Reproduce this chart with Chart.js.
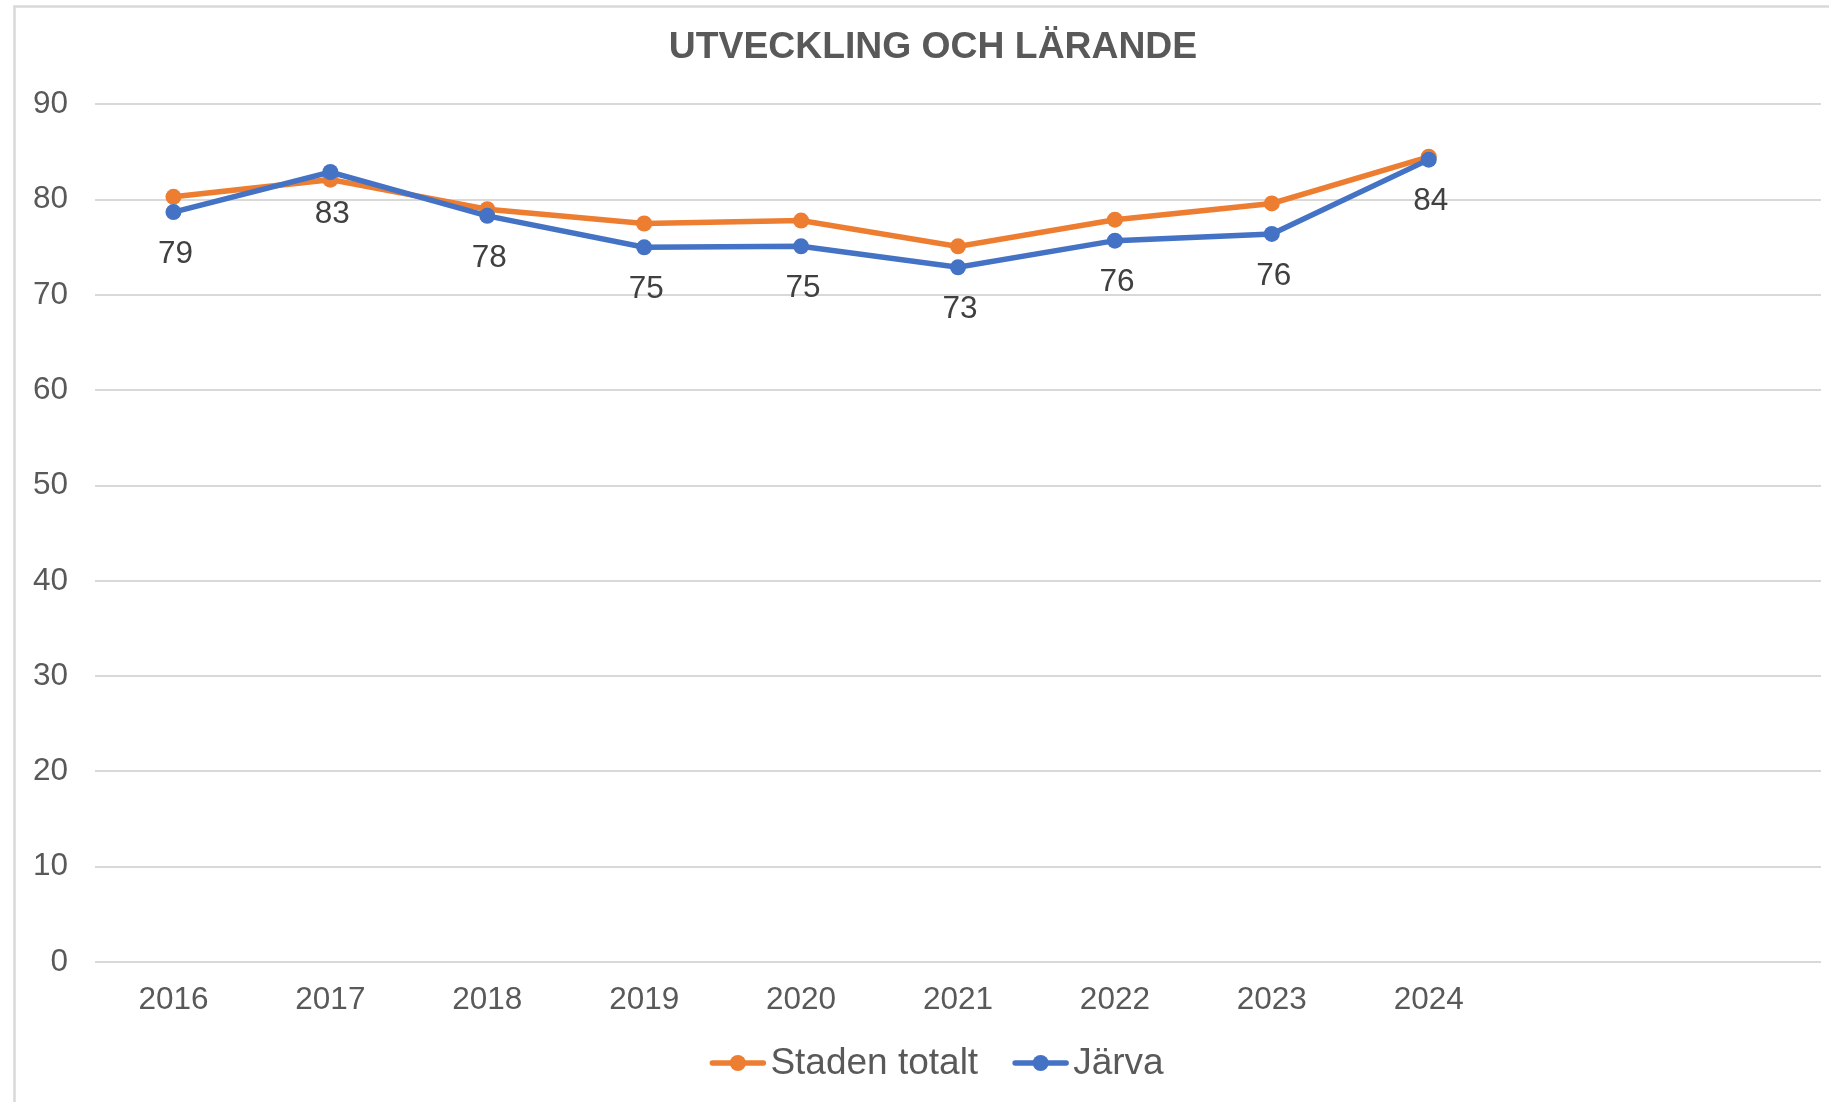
<!DOCTYPE html>
<html>
<head>
<meta charset="utf-8">
<script src="https://cdn.jsdelivr.net/npm/chart.js@4/dist/chart.umd.min.js"></script>
<style>
  html, body { margin: 0; padding: 0; background: #ffffff; }
  canvas { display: block; }
</style>
</head>
<body>
<canvas id="c" width="1829" height="1102"></canvas>
<script>
const chartTitle = 'UTVECKLING OCH LÄRANDE';
const categories = ['2016', '2017', '2018', '2019', '2020', '2021', '2022', '2023', '2024', '', ''];
const seriesNames = ['Staden totalt', 'Järva'];
const stadenTotalt = [80.3, 82.1, 79.0, 77.5, 77.8, 75.1, 77.9, 79.6, 84.5];
const jarva = [78.7, 82.9, 78.3, 75.0, 75.1, 72.9, 75.7, 76.4, 84.2];
const yTicks = [0, 10, 20, 30, 40, 50, 60, 70, 80, 90];

const ORANGE = '#ED7D31';
const BLUE = '#4472C4';
const TEXT = '#595959';
const GRID = '#D9D9D9';
const FONT = "'Liberation Sans', Arial, sans-serif";

const frame = {
  id: 'frame',
  beforeDraw(chart) {
    const ctx = chart.ctx;
    ctx.save();
    ctx.fillStyle = '#ffffff';
    ctx.fillRect(0, 0, chart.width, chart.height);
    ctx.strokeStyle = GRID;
    ctx.lineWidth = 2.5;
    ctx.beginPath();
    ctx.moveTo(14.5, chart.height + 10);
    ctx.lineTo(14.5, 6.5);
    ctx.lineTo(chart.width + 10, 6.5);
    ctx.stroke();
    ctx.restore();
  }
};

const titleShift = {
  id: 'titleShift',
  afterLayout(chart) {
    if (chart.titleBlock) {
      chart.titleBlock.left += 12;
      chart.titleBlock.right += 12;
    }
  }
};

const valueLabels = {
  id: 'valueLabels',
  afterDatasetsDraw(chart) {
    const ctx = chart.ctx;
    const meta = chart.getDatasetMeta(1);
    const data = chart.data.datasets[1].data;
    ctx.save();
    ctx.font = '31.5px ' + FONT;
    ctx.fillStyle = '#404040';
    ctx.textAlign = 'center';
    ctx.textBaseline = 'middle';
    meta.data.forEach((pt, i) => {
      if (data[i] == null) return;
      ctx.fillText(String(Math.round(data[i])), pt.x + 2, pt.y + 42);
    });
    ctx.restore();
  }
};

const lineLegend = {
  id: 'lineLegend',
  afterDraw(chart) {
    const ctx = chart.ctx;
    const items = chart.data.datasets;
    const lineLen = 55, gap = 5, spacing = 35, cy = 1063;
    ctx.save();
    ctx.font = '37px ' + FONT;
    const widths = items.map(d => ctx.measureText(d.label).width);
    let total = 0;
    widths.forEach((w, i) => { total += lineLen + gap + w + (i < widths.length - 1 ? spacing : 0); });
    let x = 937 - total / 2;
    items.forEach((d, i) => {
      ctx.strokeStyle = d.borderColor;
      ctx.lineWidth = 5.5;
      ctx.lineCap = 'round';
      ctx.beginPath();
      ctx.moveTo(x + 2, cy);
      ctx.lineTo(x + lineLen - 2, cy);
      ctx.stroke();
      ctx.fillStyle = d.borderColor;
      ctx.beginPath();
      ctx.arc(x + lineLen / 2, cy, 8, 0, Math.PI * 2);
      ctx.fill();
      ctx.fillStyle = TEXT;
      ctx.textAlign = 'left';
      ctx.textBaseline = 'middle';
      ctx.fillText(d.label, x + lineLen + gap, cy + 1);
      x += lineLen + gap + widths[i] + spacing;
    });
    ctx.restore();
  }
};

new Chart(document.getElementById('c'), {
  type: 'line',
  data: {
    labels: categories,
    datasets: [
      {
        label: seriesNames[0],
        data: stadenTotalt,
        borderColor: ORANGE,
        backgroundColor: ORANGE,
        borderWidth: 5.5,
        pointRadius: 8,
        pointBorderWidth: 0,
        pointBackgroundColor: ORANGE,
        tension: 0,
        order: 2
      },
      {
        label: seriesNames[1],
        data: jarva,
        borderColor: BLUE,
        backgroundColor: BLUE,
        borderWidth: 5.5,
        pointRadius: 8,
        pointBorderWidth: 0,
        pointBackgroundColor: BLUE,
        tension: 0,
        order: 1
      }
    ]
  },
  options: {
    responsive: false,
    animation: false,
    devicePixelRatio: 1,
    layout: { padding: { top: 25, left: 20, right: 7, bottom: 76.5 } },
    plugins: {
      legend: { display: false },
      tooltip: { enabled: false },
      title: {
        display: true,
        text: chartTitle,
        color: TEXT,
        font: { family: FONT, size: 37.3, weight: 'bold', lineHeight: 1.2 },
        padding: { top: 0, bottom: 34.6 }
      }
    },
    scales: {
      x: {
        offset: true,
        grid: { display: false, drawTicks: false },
        border: { display: false },
        ticks: {
          color: TEXT,
          font: { family: FONT, size: 31.5 },
          padding: 19.5,
          maxRotation: 0,
          minRotation: 0,
          autoSkip: false
        },
        afterFit(scale) { scale.height = 63.5; }
      },
      y: {
        min: 0,
        max: 90,
        afterBuildTicks(scale) { scale.ticks = yTicks.map(v => ({ value: v })); },
        grid: { color: GRID, lineWidth: 2, drawTicks: false },
        border: { display: false },
        ticks: {
          color: TEXT,
          font: { family: FONT, size: 31.5 },
          padding: 27
        },
        afterFit(scale) { scale.width = 75; }
      }
    }
  },
  plugins: [frame, titleShift, valueLabels, lineLegend]
});
</script>
</body>
</html>
